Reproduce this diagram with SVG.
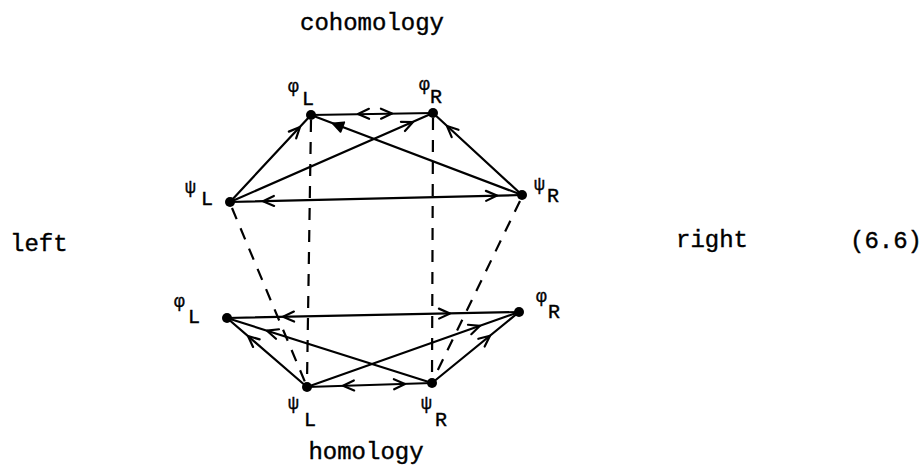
<svg xmlns="http://www.w3.org/2000/svg" width="921" height="468" viewBox="0 0 921 468">
<style>
  .t { font-family: "Liberation Mono", "DejaVu Sans Mono", monospace; fill: #000; stroke: #000; stroke-width: 0.4; }
  .big { font-size: 24px; }
  .sub { font-size: 20px; }
  .gr { font-size: 18px; }
  .edge { stroke: #000; stroke-width: 2.2; fill: none; stroke-linecap: round; }
  .dash { stroke: #000; stroke-width: 2.2; fill: none; stroke-dasharray: 12 10; }
  .dot { fill: #000; }
</style>
<defs>
  <path id="ah" d="M-11,-5 L0,0 L-11,5" stroke="#000" stroke-width="2.2" fill="none" stroke-linecap="round" stroke-linejoin="round"/>
  <path id="ahf" d="M-10,-5 L0,0 L-10,5 Z" stroke="#000" stroke-width="2" fill="#000" stroke-linejoin="round"/>
</defs>
<rect width="921" height="468" fill="#fff"/>

<g id="labels">
  <text class="t big" x="372" y="30" text-anchor="middle">cohomology</text>
  <text class="t big" x="366" y="459" text-anchor="middle">homology</text>
  <text class="t big" x="10" y="251">left</text>
  <text class="t big" x="676" y="247">right</text>
  <text class="t big" x="850" y="248">(6.6)</text>
</g>

<g id="connectors">
  <line class="dash" x1="311" y1="120" x2="307" y2="382"/>
  <line class="dash" x1="433" y1="118" x2="432" y2="378"/>
  <line class="dash" x1="232" y1="208" x2="305" y2="382"/>
  <line class="dash" x1="520" y1="201" x2="434" y2="378"/>

  <line class="edge" x1="311" y1="115" x2="433" y2="113"/>
  <use href="#ah" transform="translate(358,114) rotate(179)"/>
  <use href="#ah" transform="translate(392,113.5) rotate(-1)"/>

  <line class="edge" x1="230" y1="202" x2="311" y2="115"/>
  <use href="#ah" transform="translate(300,127) rotate(-47)"/>

  <line class="edge" x1="230" y1="202" x2="433" y2="113"/>
  <use href="#ah" transform="translate(413,122) rotate(-23.7)"/>

  <line class="edge" x1="522" y1="195" x2="433" y2="113"/>
  <use href="#ah" transform="translate(447,126) rotate(-137.3)"/>

  <line class="edge" x1="522" y1="195" x2="311" y2="115"/>
  <use href="#ahf" transform="translate(333,123.5) rotate(-159.2)"/>

  <line class="edge" x1="230" y1="202" x2="522" y2="195"/>
  <use href="#ah" transform="translate(263,201.2) rotate(178.6)"/>
  <use href="#ah" transform="translate(497,195.6) rotate(-1.4)"/>

  <line class="edge" x1="227" y1="318" x2="519" y2="312"/>
  <use href="#ah" transform="translate(283,316.8) rotate(178.8)"/>
  <use href="#ah" transform="translate(450,313.4) rotate(-1.2)"/>

  <line class="edge" x1="307" y1="387" x2="227" y2="318"/>
  <use href="#ah" transform="translate(248,336) rotate(-139.2)"/>

  <line class="edge" x1="432" y1="383" x2="227" y2="318"/>
  <use href="#ah" transform="translate(267,330.7) rotate(-162.4)"/>

  <line class="edge" x1="307" y1="387" x2="519" y2="312"/>
  <use href="#ah" transform="translate(480,325.8) rotate(-19.5)"/>

  <line class="edge" x1="432" y1="383" x2="519" y2="312"/>
  <use href="#ah" transform="translate(490,335.7) rotate(-39.2)"/>

  <line class="edge" x1="307" y1="387" x2="432" y2="383"/>
  <use href="#ah" transform="translate(343,385.8) rotate(178.2)"/>
  <use href="#ah" transform="translate(405,383.9) rotate(-1.8)"/>
</g>

<g id="phiL-top">
  <circle class="dot" cx="311" cy="115" r="5"/>
  <text class="t gr" x="288" y="92">φ</text>
  <text class="t sub" x="302" y="105">L</text>
</g>
<g id="phiR-top">
  <circle class="dot" cx="433" cy="113" r="5"/>
  <text class="t gr" x="419" y="90">φ</text>
  <text class="t sub" x="430" y="103">R</text>
</g>
<g id="psiL-top">
  <circle class="dot" cx="230" cy="202" r="5"/>
  <text class="t gr" x="185" y="193">ψ</text>
  <text class="t sub" x="201" y="205">L</text>
</g>
<g id="psiR-top">
  <circle class="dot" cx="522" cy="195" r="5"/>
  <text class="t gr" x="534" y="190">ψ</text>
  <text class="t sub" x="547" y="202">R</text>
</g>
<g id="phiL-bottom">
  <circle class="dot" cx="227" cy="318" r="5"/>
  <text class="t gr" x="174" y="307">φ</text>
  <text class="t sub" x="188" y="323">L</text>
</g>
<g id="phiR-bottom">
  <circle class="dot" cx="519" cy="312" r="5"/>
  <text class="t gr" x="536" y="302">φ</text>
  <text class="t sub" x="548" y="318">R</text>
</g>
<g id="psiL-bottom">
  <circle class="dot" cx="307" cy="387" r="5"/>
  <text class="t gr" x="288" y="409">ψ</text>
  <text class="t sub" x="304" y="426">L</text>
</g>
<g id="psiR-bottom">
  <circle class="dot" cx="432" cy="383" r="5"/>
  <text class="t gr" x="421" y="409">ψ</text>
  <text class="t sub" x="435" y="426">R</text>
</g>
</svg>
